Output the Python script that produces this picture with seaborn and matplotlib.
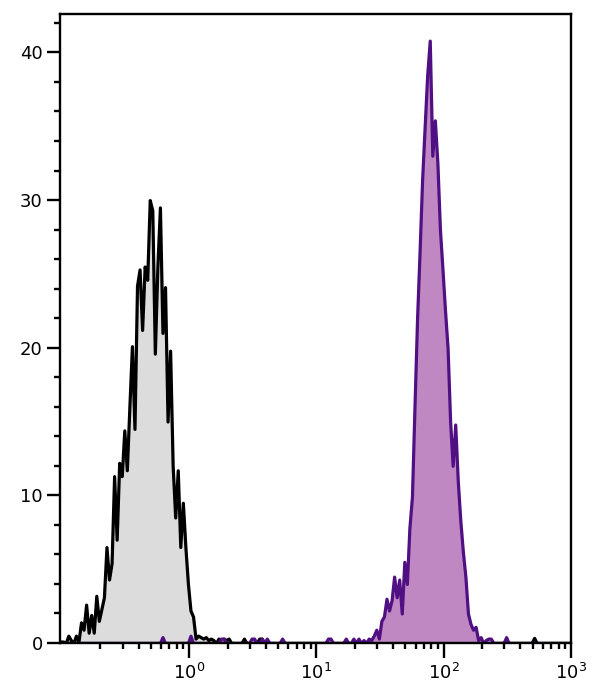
import matplotlib
matplotlib.use('Agg')
import matplotlib.pyplot as plt
import matplotlib.ticker as mticker
import numpy as np
import pandas as pd
import seaborn as sns

# channel grid (log10 units) shared by both samples
LOG_BIN = 0.02
LOG_MIN = -1.02
LOG_MAX = 3.0

# unstained control: main peak counts, first channel starts at gray_start
gray_start = -1.02
gray_counts = [
    0.1, 0.1, 0.0, 0.5, 0.2, 0.0, 0.5, 0.1, 1.4, 0.9,
    2.6, 0.7, 1.9, 0.7, 3.2, 1.5, 2.3, 3.1, 6.5, 4.3,
    5.4, 11.3, 7.0, 12.2, 11.3, 14.4, 11.7, 16.0, 20.1, 14.5,
    24.2, 25.3, 21.2, 25.5, 24.6, 30.0, 29.3, 19.6, 25.5, 29.5,
    21.0, 24.1, 15.0, 19.8, 12.0, 8.5, 11.7, 6.5, 9.5, 6.5,
    4.0, 2.2, 1.8, 0.3, 0.5, 0.4, 0.3, 0.4, 0.2, 0.3,
    0.2, 0.0, 0.3, 0.2, 0.3, 0.2, 0.3,
]
# scattered single events along the baseline
gray_event_logs = [0.43, 0.55, 0.57, 2.71]
gray_event_counts = [0.3, 0.3, 0.3, 0.35]

# stained sample
purple_start = 1.36
purple_counts = [
    0.2, 0.0, 0.3, 0.2, 0.5, 0.9, 0.3, 1.5, 1.8, 3.0,
    2.2, 2.9, 4.5, 3.1, 4.3, 2.0, 5.5, 4.0, 7.8, 9.9,
    16.0, 21.9, 26.5, 31.4, 35.0, 38.5, 40.8, 33.0, 35.4, 32.5,
    28.0, 25.3, 22.5, 20.0, 15.0, 12.0, 14.8, 11.0, 8.3, 6.2,
    4.5, 2.0, 1.3, 0.9, 1.1, 0.2, 0.4, 0.0, 0.2, 0.0,
    0.3,
]
purple_event_logs = [-0.21, 0.01, 0.25, 0.27, 0.49, 0.51, 0.57, 0.61,
                     0.73, 1.09, 1.11, 1.23, 1.29, 1.33, 2.35, 2.49]
purple_event_counts = [0.4, 0.5, 0.3, 0.3, 0.3, 0.3, 0.3, 0.3,
                       0.3, 0.3, 0.3, 0.3, 0.3, 0.3, 0.3, 0.4]

x_ticks = [1, 10, 100, 1000]
y_ticks = [0, 10, 20, 30, 40]


def channel_table(start, counts, event_logs, event_counts):
    centers = start + LOG_BIN * (np.arange(len(counts)) + 0.5)
    logs = np.concatenate([centers, event_logs])
    weights = np.concatenate([counts, event_counts])
    return pd.DataFrame({"intensity": 10 ** logs, "count": weights})


df_gray = channel_table(gray_start, gray_counts, gray_event_logs, gray_event_counts)
df_purple = channel_table(purple_start, purple_counts, purple_event_logs, purple_event_counts)

sns.set_style("ticks")
plt.rcParams['font.family'] = ['DejaVu Sans']

fig = plt.figure(figsize=(6, 7), dpi=100)
ax = fig.add_axes([0.1, 0.0814, 0.8517, 0.8986])

hist_kws = dict(x="intensity", weights="count", log_scale=True,
                binwidth=LOG_BIN, binrange=(LOG_MIN, LOG_MAX),
                element="poly", fill=True, alpha=1, linewidth=2.3, ax=ax)
sns.histplot(data=df_gray, facecolor="#dcdcdc", edgecolor="black", **hist_kws)
sns.histplot(data=df_purple, facecolor="#bf88c3", edgecolor="#500f82", **hist_kws)

ax.set_xlim(10 ** -1.015, 1000)
ax.set_ylim(0, 42.6)
ax.set_xlabel("")
ax.set_ylabel("")

ax.xaxis.set_major_locator(mticker.FixedLocator(x_ticks))
ax.xaxis.set_major_formatter(mticker.LogFormatterSciNotation())
ax.xaxis.set_minor_locator(mticker.LogLocator(base=10, subs=np.arange(2, 10), numticks=10))
ax.xaxis.set_minor_formatter(mticker.NullFormatter())
ax.set_yticks(y_ticks)
ax.yaxis.set_minor_locator(mticker.MultipleLocator(2))

for side in ["top", "right", "left", "bottom"]:
    ax.spines[side].set_visible(True)
    ax.spines[side].set_linewidth(1.7)
    ax.spines[side].set_color("black")
    ax.spines[side].set_zorder(5)

ax.tick_params(axis="x", which="major", direction="out", length=11, width=1.7,
               labelsize=13, pad=3, color="black", labelcolor="black")
ax.tick_params(axis="x", which="minor", direction="out", length=4.5, width=1.7,
               color="black")
ax.tick_params(axis="y", which="major", direction="out", length=9.5, width=1.7,
               labelsize=13, pad=3, color="black", labelcolor="black")
ax.tick_params(axis="y", which="minor", direction="out", length=4, width=1.7,
               color="black")

fig.savefig("out.png", dpi=100)
